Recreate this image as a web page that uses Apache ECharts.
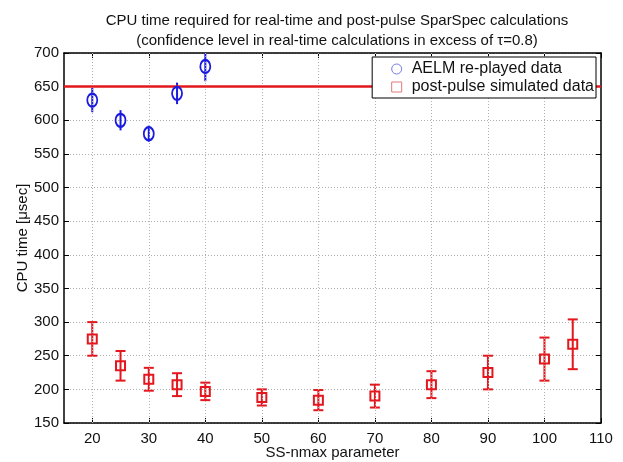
<!DOCTYPE html>
<html>
<head>
<meta charset="utf-8">
<script src="https://cdn.jsdelivr.net/npm/echarts@6/dist/echarts.min.js"></script>
<style>
  html, body { margin: 0; padding: 0; background: #fff; }
  #chart { width: 623px; height: 462px; }
</style>
</head>
<body>
<div id="chart"></div>
<script>
// SS-nmax values and CPU time (mean, ± error) for each data set
const aelmX = [20, 25, 30, 35, 40];
const aelmMean = [630, 600, 580, 640, 680];
const aelmErr = [18, 15, 12, 16, 22];

const postX = [20, 25, 30, 35, 40, 50, 60, 70, 80, 90, 100, 105];
const postMean = [275, 235, 215, 207, 197, 188, 184, 190, 207, 225, 245, 267];
const postErr = [25, 22, 17, 17, 13, 12, 15, 17, 20, 25, 32, 37];

// real-time budget line
const limitValue = 650;

// axis ticks
const xTicks = [20, 30, 40, 50, 60, 70, 80, 90, 100, 110];
const yTicks = [150, 200, 250, 300, 350, 400, 450, 500, 550, 600, 650, 700];

const BLUE = '#1a1ae0';
const RED = '#e3171d';
const FONT = 'Liberation Sans, Arial, sans-serif';
const FS = 15;

function pairs(xs, ys) { return xs.map((x, i) => [x, ys[i]]); }
function errData(xs, m, e) { return xs.map((x, i) => [x, m[i] - e[i], m[i] + e[i]]); }

function errorBars(color, capHalf) {
  return function (params, api) {
    const x = api.value(0);
    const lo = api.coord([x, api.value(1)]);
    const hi = api.coord([x, api.value(2)]);
    const style = { stroke: color, lineWidth: 2, fill: null };
    const children = [{ type: 'line', shape: { x1: lo[0], y1: lo[1], x2: hi[0], y2: hi[1] }, style }];
    if (capHalf > 0) {
      children.push({ type: 'line', shape: { x1: lo[0] - capHalf, y1: lo[1], x2: lo[0] + capHalf, y2: lo[1] }, style });
      children.push({ type: 'line', shape: { x1: hi[0] - capHalf, y1: hi[1], x2: hi[0] + capHalf, y2: hi[1] }, style });
    }
    return { type: 'group', children };
  };
}

const chart = echarts.init(document.getElementById('chart'), null, { renderer: 'canvas' });

const tickInside = { show: true, inside: true, length: 5, lineStyle: { color: '#000', width: 1 } };
const axisBlack = { show: true, onZero: false, lineStyle: { color: '#000', width: 1.5 } };
const gridLine = { show: true, lineStyle: { color: '#b0b0b0', type: [1, 2], width: 1 } };

chart.setOption({
  animation: false,
  backgroundColor: '#fff',
  textStyle: { fontFamily: FONT },
  title: {
    text: 'CPU time required for real-time and post-pulse SparSpec calculations\n(confidence level in real-time calculations in excess of \u03c4=0.8)',
    left: 332,
    textAlign: 'center',
    top: 6,
    textStyle: { fontSize: FS, fontWeight: 'normal', color: '#111', lineHeight: 20, fontFamily: FONT }
  },
  legend: {
    orient: 'vertical',
    right: 27,
    top: 57,
    z: 20,
    backgroundColor: '#fff',
    borderColor: '#000',
    borderWidth: 1,
    borderRadius: 0,
    padding: [4, 2, 3, 19],
    itemGap: 2,
    itemWidth: 10,
    itemHeight: 10,
    textStyle: { fontSize: 16, color: '#111', fontFamily: FONT, padding: [0, 0, 0, 5] },
    data: [
      { name: 'AELM re-played data', icon: 'circle', itemStyle: { color: '#fff', borderColor: '#7a7ae8', borderWidth: 1 } },
      { name: 'post-pulse simulated data', icon: 'rect', itemStyle: { color: '#fff', borderColor: '#e07a7a', borderWidth: 1 } }
    ],
    selectedMode: false
  },
  grid: { left: 64, right: 22, top: 53, bottom: 39, outerBoundsMode: 'none', containLabel: false },
  xAxis: [
    {
      type: 'value', min: 15, max: 110,
      name: 'SS-nmax parameter', nameLocation: 'middle', nameGap: 22,
      nameMoveOverlap: false,
      nameTextStyle: { fontSize: FS, color: '#111', fontFamily: FONT },
      axisLine: axisBlack,
      axisTick: Object.assign({ customValues: xTicks }, tickInside),
      axisLabel: { customValues: xTicks, fontSize: FS, color: '#111', margin: 8, fontFamily: FONT },
      splitLine: { show: false }
    },
    {
      type: 'value', min: 15, max: 110, position: 'top',
      axisLine: axisBlack,
      axisTick: Object.assign({ customValues: xTicks }, tickInside),
      axisLabel: { show: false },
      splitLine: { show: false }
    }
  ],
  yAxis: [
    {
      type: 'value', min: 150, max: 700, interval: 50,
      name: 'CPU time [\u03bcsec]', nameLocation: 'middle', nameGap: 34,
      nameMoveOverlap: false,
      nameTextStyle: { fontSize: FS, color: '#111', fontFamily: FONT },
      axisLine: axisBlack,
      axisTick: tickInside,
      axisLabel: { fontSize: FS, color: '#111', margin: 5, fontFamily: FONT },
      splitLine: gridLine
    },
    {
      type: 'value', min: 150, max: 700, interval: 50, position: 'right',
      axisLine: axisBlack,
      axisTick: tickInside,
      axisLabel: { show: false },
      splitLine: { show: false }
    }
  ],
  series: [
    {
      // vertical dotted grid lines at the x ticks
      type: 'line', data: [], silent: true,
      markLine: {
        silent: true, symbol: 'none', label: { show: false },
        lineStyle: { color: '#b0b0b0', type: [1, 2], width: 1 },
        data: xTicks.slice(0, -1).map(v => ({ xAxis: v }))
      }
    },
    {
      // budget threshold
      type: 'line', data: [], silent: true, z: 3,
      markLine: {
        silent: true, symbol: 'none', label: { show: false },
        lineStyle: { color: RED, type: 'solid', width: 2.5 },
        data: [{ yAxis: limitValue }]
      }
    },
    {
      type: 'custom', name: 'aelmErr', clip: true, z: 4,
      renderItem: errorBars(BLUE, 0),
      data: errData(aelmX, aelmMean, aelmErr)
    },
    {
      type: 'custom', name: 'postErr', clip: true, z: 4,
      renderItem: errorBars(RED, 5),
      data: errData(postX, postMean, postErr)
    },
    {
      type: 'scatter', name: 'AELM re-played data', z: 5,
      symbol: 'circle', symbolSize: [10, 13],
      itemStyle: { color: 'rgba(0,0,0,0)', borderColor: BLUE, borderWidth: 2, opacity: 1 },
      data: pairs(aelmX, aelmMean)
    },
    {
      type: 'scatter', name: 'post-pulse simulated data', z: 5,
      symbol: 'rect', symbolSize: 9,
      itemStyle: { color: 'rgba(0,0,0,0)', borderColor: RED, borderWidth: 2, opacity: 1 },
      data: pairs(postX, postMean)
    }
  ]
});
</script>
</body>
</html>
